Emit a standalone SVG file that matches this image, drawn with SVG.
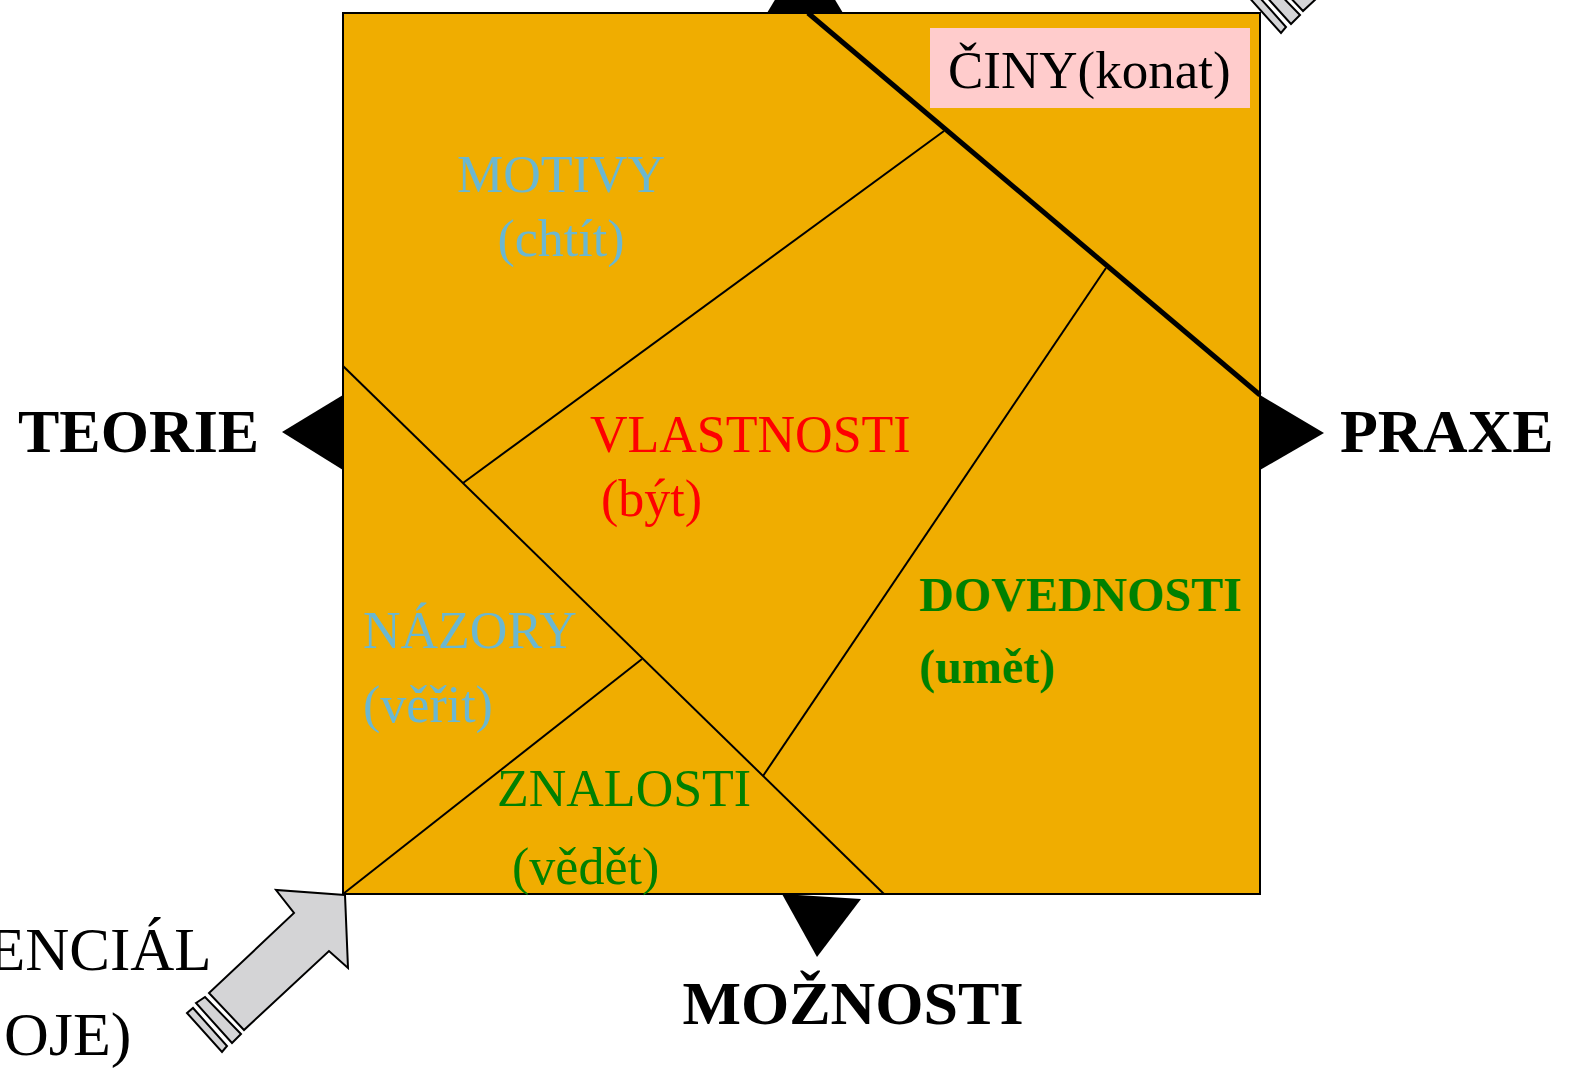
<svg xmlns="http://www.w3.org/2000/svg" width="1576" height="1081" viewBox="0 0 1576 1081">
<style>
.t{font-family:"Liberation Serif","Times New Roman",serif;}
.b{font-weight:bold;}
.blue{fill:#6BB7D0;}
.green{fill:#008000;}
.thin{stroke:#000;stroke-width:2;fill:none;}
.tri{fill:#000;}
.ga{fill:#D4D4D6;stroke:#000;stroke-width:2;stroke-linejoin:miter;}
</style>
<defs>
<g id="blockArrow">
<polygon class="ga" points="345,895 276,890 294,913 209,993 244,1030 329,951 348,968"/>
<polygon class="ga" points="196,1003 205,997 241,1034 232,1043"/>
<polygon class="ga" points="187,1013 193,1008 227,1046 222,1052"/>
</g>
</defs>
<rect width="1576" height="1081" fill="#fff"/>
<g id="square">
<rect x="343" y="13" width="917" height="881" fill="#F0AD00" stroke="#000" stroke-width="2"/>
</g>
<g id="connectors">
<line class="thin" x1="343" y1="366" x2="884" y2="894"/>
<line class="thin" x1="944" y1="131" x2="463" y2="483"/>
<line class="thin" x1="1106" y1="268" x2="763" y2="776"/>
<line class="thin" x1="343" y1="894" x2="642" y2="659"/>
<line x1="808" y1="13" x2="1260" y2="395" stroke="#000" stroke-width="5"/>
</g>
<g id="triangles">
<polygon class="tri" points="767,13 843,13 805,-50"/>
<polygon class="tri" points="343,395 343,470 282,432"/>
<polygon class="tri" points="1260,395 1260,470 1324,433"/>
<polygon class="tri" points="782,894 861,899 817,957"/>
</g>
<g id="arrow-bottom-left"><use href="#blockArrow"/></g>
<g id="arrow-top-right"><use href="#blockArrow" transform="translate(1059,-1019)"/></g>
<g id="node-ciny">
<rect x="930" y="28" width="320" height="80" fill="#FFCCCC"/>
<text class="t" x="948" y="88" font-size="53" fill="#000">ČINY(konat)</text>
</g>
<g id="node-motivy">
<text class="t blue" x="561" y="192" font-size="52" text-anchor="middle">MOTIVY</text>
<text class="t blue" x="561" y="256" font-size="52" text-anchor="middle">(chtít)</text>
</g>
<g id="node-vlastnosti">
<text class="t" x="590" y="452" font-size="52" fill="#FF0000">VLASTNOSTI</text>
<text class="t" x="601" y="516" font-size="52" fill="#FF0000">(být)</text>
</g>
<g id="node-dovednosti">
<text class="t b green" x="919" y="611" font-size="48">DOVEDNOSTI</text>
<text class="t b green" x="919" y="683" font-size="48">(umět)</text>
</g>
<g id="node-nazory">
<text class="t blue" x="363" y="648" font-size="52">NÁZORY</text>
<text class="t blue" x="363" y="722" font-size="52">(věřit)</text>
</g>
<g id="node-znalosti">
<text class="t green" x="497" y="806" font-size="52">ZNALOSTI</text>
<text class="t green" x="512" y="884" font-size="52">(vědět)</text>
</g>
<g id="node-teorie">
<text class="t b" x="18" y="452" font-size="62" fill="#000">TEORIE</text>
</g>
<g id="node-praxe">
<text class="t b" x="1340" y="452" font-size="62" fill="#000">PRAXE</text>
</g>
<g id="node-moznosti">
<text class="t b" x="853" y="1024" font-size="62" fill="#000" text-anchor="middle">MOŽNOSTI</text>
</g>
<g id="node-potencial">
<text class="t" x="-12" y="970" font-size="61" fill="#000">ENCIÁL</text>
<text class="t" x="4" y="1055" font-size="62" fill="#000">OJE)</text>
</g>
</svg>
